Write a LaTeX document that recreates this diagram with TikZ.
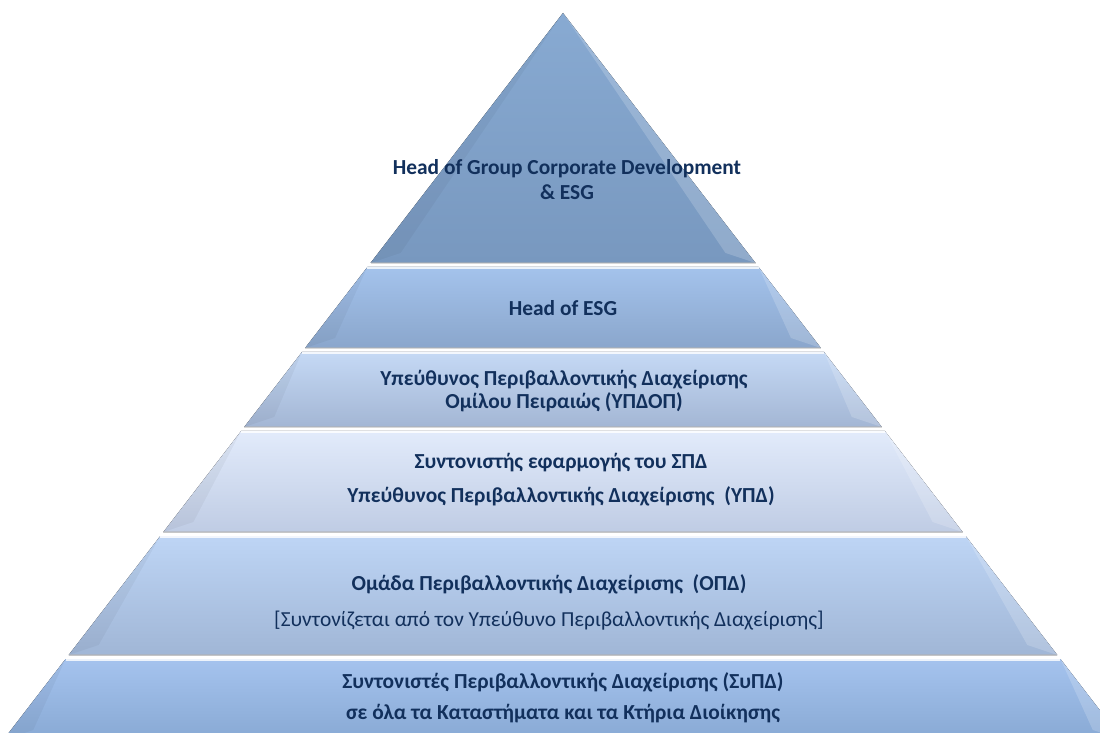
\documentclass[tikz,border=0pt]{standalone}
\usepackage{fontspec}
\setmainfont{Carlito}
\usepackage{tikz}
\usetikzlibrary{positioning}

\definecolor{textnavy}{HTML}{12305C}
% one band of the pyramid: top y, bottom y, top/middle/bottom colour (HTML)
\newcommand{\pyrlayer}[5]{%
  \definecolor{bandtop}{HTML}{#3}\definecolor{bandmid}{HTML}{#4}\definecolor{bandbot}{HTML}{#5}%
  \fill[top color=bandtop, middle color=bandmid, bottom color=bandbot]
    ({563-0.77*(#1-13)},#1) -- ({563+0.77*(#1-13)},#1) -- ({563+0.77*(#2-13)},#2) -- ({563-0.77*(#2-13)},#2) -- cycle;
  \fill[white, opacity=0.18]
    ({563+0.77*(#1-13)},#1) -- ({563+0.77*(#2-13)},#2) -- ({563+0.77*(#2-13)-30},#2-10) -- cycle;
  \fill[black, opacity=0.04]
    ({563-0.77*(#1-13)},#1) -- ({563-0.77*(#2-13)},#2) -- ({563-0.77*(#2-13)+30},#2-10) -- cycle;
  \draw[white, opacity=0.8, line width=1pt] ({563-0.77*(#1-13)},#1+1) -- ({563+0.77*(#1-13)},#1+1);
  \draw[black!30, opacity=0.5, line width=0.6pt] ({563-0.77*(#2-13)},#2) -- ({563+0.77*(#2-13)},#2);}

\begin{document}
\begin{tikzpicture}[x=0.5pt, y=-0.5pt, label/.style={text=textnavy, align=center, inner sep=0pt, font=\bfseries}]

    \useasboundingbox (0,0) rectangle (1100,733);
    \clip (0,0) rectangle (1100,733);

    %Bands
    \pyrlayer{13}{263}{88AAD2}{7EA0C8}{7898BF}
    \pyrlayer{267}{348}{A4C3EC}{93B3DD}{8AA6CC}
    \pyrlayer{352}{427}{C5D9F5}{B4C9E8}{A3B6D4}
    \pyrlayer{431}{532}{E2EBFB}{D1DDF4}{BFCCE4}
    \pyrlayer{536}{655}{BED5F5}{AEC6E8}{A0B6D6}
    \pyrlayer{659}{740}{A5C3EE}{90B2DE}{88A9D4}

    %Nodes
    \node[label, font=\fontsize{10.7}{12.5}\selectfont\bfseries](groupdev) at (567,180){Head of Group Corporate Development\\\& ESG};
    \node[label, font=\fontsize{10.7}{12}\selectfont\bfseries](headesg) at (563,308){Head of ESG};
    \node[label, font=\fontsize{10.7}{11.5}\selectfont\bfseries](ypdop) at (564,391){Υπεύθυνος Περιβαλλοντικής Διαχείρισης\\Ομίλου Πειραιώς (ΥΠΔΟΠ)};
    \node[label, font=\fontsize{10.7}{17}\selectfont\bfseries](coordinator) at (561,480){Συντονιστής εφαρμογής του ΣΠΔ\\Υπεύθυνος Περιβαλλοντικής Διαχείρισης\ \ (ΥΠΔ)};
    \node[label, font=\fontsize{10.7}{18}\selectfont\bfseries](team) at (549,602){Ομάδα Περιβαλλοντικής Διαχείρισης\ \ (ΟΠΔ)\\{\mdseries [Συντονίζεται από τον Υπεύθυνο Περιβαλλοντικής Διαχείρισης]}};
    \node[label, font=\fontsize{10.7}{15.5}\selectfont\bfseries](branches) at (563,698){Συντονιστές Περιβαλλοντικής Διαχείρισης (ΣυΠΔ)\\σε όλα τα Καταστήματα και τα Κτήρια Διοίκησης};

\end{tikzpicture}
\end{document}
